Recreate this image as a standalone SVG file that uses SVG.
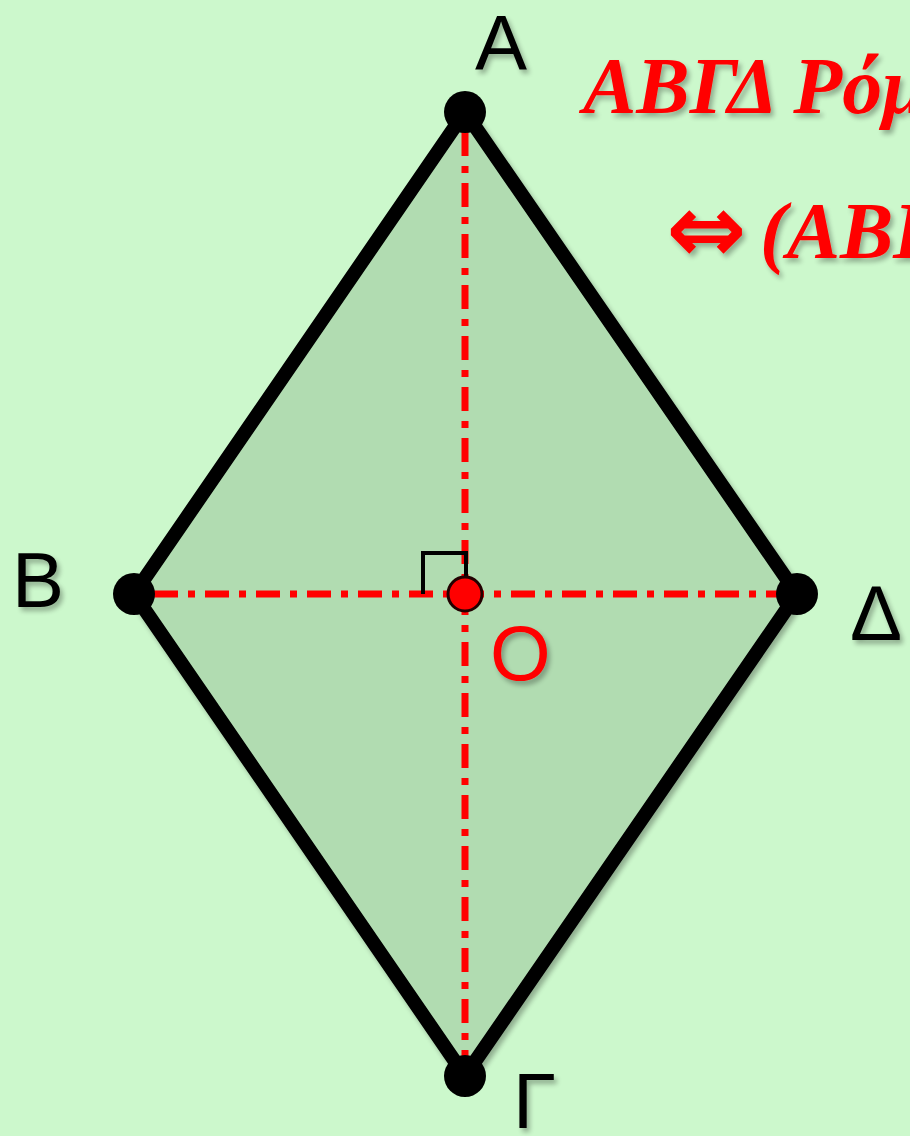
<svg xmlns="http://www.w3.org/2000/svg" width="910" height="1136" viewBox="0 0 910 1136">
<defs>
<filter id="sh" x="-20%" y="-20%" width="140%" height="140%">
<feGaussianBlur in="SourceAlpha" stdDeviation="2.5"/>
<feOffset dx="3" dy="4" result="b"/>
<feComponentTransfer><feFuncA type="linear" slope="0.3"/></feComponentTransfer>
<feMerge><feMergeNode/><feMergeNode in="SourceGraphic"/></feMerge>
</filter>
<style>
.lbl{font-family:"Liberation Sans",Arial,sans-serif;font-size:78px;fill:#000}
.red{fill:#ff0000}
.title{font-family:"Liberation Serif","Times New Roman",serif;font-weight:bold;font-style:italic;font-size:80px;fill:#ff0000}
.arr{font-family:"DejaVu Sans",sans-serif;font-style:normal;font-weight:bold;font-size:96px}
.diag{stroke:#ff0000;stroke-width:7;stroke-dasharray:24 10 7 10;fill:none}
.vtx{fill:#000}
</style>
</defs>
<rect width="910" height="1136" fill="#ccf8cc"/>
<g id="rhombus">
<polygon points="465,112 134,594 465,1076 797,594" fill="#b1dcb1" stroke="#000" stroke-width="14" stroke-linejoin="round" filter="url(#sh)"/>
</g>
<g id="connectors">
<line class="diag" x1="465" y1="132" x2="465" y2="1056"/>
<line class="diag" x1="154" y1="594" x2="778" y2="594"/>
<polyline points="423,594 423,553 466,553 466,594" fill="none" stroke="#000" stroke-width="4"/>
</g>
<g id="A"><circle class="vtx" cx="465" cy="112" r="21"/><text class="lbl" x="475" y="70" filter="url(#sh)">Α</text></g>
<g id="B"><circle class="vtx" cx="134" cy="594" r="21"/><text class="lbl" x="12" y="607" filter="url(#sh)">Β</text></g>
<g id="D"><circle class="vtx" cx="797" cy="594" r="21"/><text class="lbl" x="850" y="640" filter="url(#sh)">Δ</text></g>
<g id="G"><circle class="vtx" cx="465" cy="1076" r="21"/><text class="lbl" x="513" y="1128" filter="url(#sh)">Γ</text></g>
<g id="O"><circle cx="465" cy="594" r="17" fill="#ff0000" stroke="#200" stroke-width="3"/><text class="lbl red" x="490" y="680" filter="url(#sh)">Ο</text></g>
<g id="title">
<text class="title" x="583" y="113" filter="url(#sh)">ΑΒΓΔ Ρόμ</text>
<text class="title" x="666" y="258" filter="url(#sh)"><tspan class="arr" y="262">⇔</tspan><tspan x="760" y="258">(ΑΒΓ</tspan></text>
</g>
</svg>
